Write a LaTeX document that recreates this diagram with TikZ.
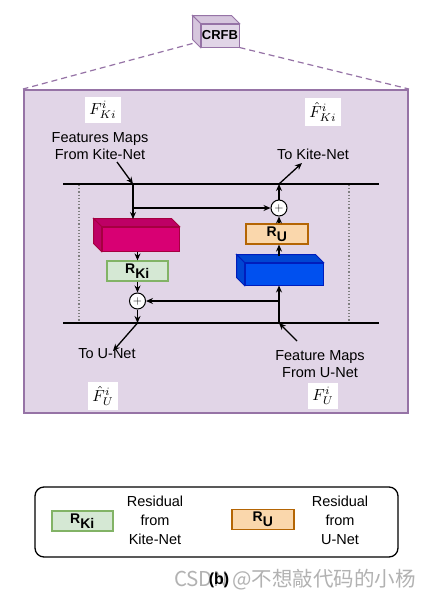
\documentclass[tikz,border=0pt]{standalone}
\usepackage{fontspec}
\setmainfont{Liberation Sans}
\newfontfamily\cjk{Noto Sans CJK SC}
\usetikzlibrary{arrows.meta,calc}
\definecolor{purfill}{HTML}{E1D5E7}
\definecolor{purline}{HTML}{9673A6}
\definecolor{magfill}{HTML}{D80073}
\definecolor{magline}{HTML}{A50040}
\definecolor{bluefill}{HTML}{0050EF}
\definecolor{blueline}{HTML}{001DBC}
\definecolor{grnfill}{HTML}{D5E8D4}
\definecolor{grnline}{HTML}{82B366}
\definecolor{orgfill}{HTML}{FAD7AC}
\definecolor{orgline}{HTML}{B46504}
\newcommand{\biglbl}[1]{\scalebox{1.6}{$#1$}}
\begin{document}
\begin{tikzpicture}[x=1pt,y=-1pt,
  txt/.style={font=\fontsize{14.5}{17.5}\selectfont, align=center, inner sep=0pt},
  mathlbl/.style={fill=white, inner xsep=4pt, inner ysep=4pt},
  arr/.style={draw=black, line width=1.3pt, -{Stealth[length=7pt,width=6pt]}},
  plain/.style={draw=black, line width=1.3pt},
  face/.style={draw, rectangle, inner sep=0pt, line width=1pt},
  resbox/.style={draw, rectangle, inner sep=0pt, line width=1.2pt, minimum height=20pt, font=\fontsize{14}{15}\selectfont\bfseries},
  plus/.style={draw=black, circle, fill=white, minimum size=16pt, inner sep=0pt, line width=1pt, font=\fontsize{12}{12}\selectfont}
]
\useasboundingbox (0,0) rectangle (430,603);
\fill[white] (0,0) rectangle (430,603);

% CRFB cube
\node[face, draw=purline, fill=purfill, minimum width=38pt, minimum height=23pt, font=\fontsize{13}{13}\selectfont\bfseries] (crfb) at (220,35.5) {CRFB};
\draw[draw=purline, fill=purfill!85!purline, line width=1pt] (crfb.north west) -- ++(-8,-8) -- ($(crfb.north east)+(-8,-8)$) -- (crfb.north east) -- cycle;
\draw[draw=purline, fill=purfill!85!purline, line width=1pt] (crfb.north west) -- ++(-8,-8) -- ($(crfb.south west)+(-8,-8)$) -- (crfb.south west) -- cycle;

% big box
\node[draw=purline, fill=purfill, line width=2pt, minimum width=384pt, minimum height=323pt, inner sep=0pt] (big) at (216,251.5) {};
\draw[purline, dashed, dash pattern=on 6pt off 4pt, line width=1.2pt] ($(crfb.south west)+(-8,-4)$) -- (big.north west);
\draw[purline, dashed, dash pattern=on 6pt off 4pt, line width=1.2pt] (crfb.south east) -- (big.north east);

% main lines
\coordinate (tl) at (63,184); \coordinate (tr) at (379,184);
\coordinate (bl) at (63,323); \coordinate (br) at (379,323);
\draw[plain] (tl) -- (tr);
\draw[plain] (bl) -- (br);
\draw[gray, dotted, line width=1.2pt] (79,185) -- (79,322);
\draw[gray, dotted, line width=1.2pt] (349,185) -- (349,322);

% magenta block
\node[face, draw=magline, fill=magfill, minimum width=77pt, minimum height=24pt] (mag) at (140.5,239) {};
\draw[draw=magline, fill=magfill!88!black, line width=1pt] (mag.north west) -- ++(-8,-8) -- ($(mag.north east)+(-8,-8)$) -- (mag.north east) -- cycle;
\draw[draw=magline, fill=magfill!88!black, line width=1pt] (mag.north west) -- ++(-8,-8) -- ($(mag.south west)+(-8,-8)$) -- (mag.south west) -- cycle;

% blue block
\node[face, draw=blueline, fill=bluefill, minimum width=78pt, minimum height=22pt] (blue) at (284,274) {};
\draw[draw=blueline, fill=bluefill!88!black, line width=1pt] (blue.north west) -- ++(-8,-8) -- ($(blue.north east)+(-8,-8)$) -- (blue.north east) -- cycle;
\draw[draw=blueline, fill=bluefill!88!black, line width=1pt] (blue.north west) -- ++(-8,-8) -- ($(blue.south west)+(-8,-8)$) -- (blue.south west) -- cycle;

% residual boxes
\node[resbox, draw=grnline, fill=grnfill, minimum width=61pt] (rki) at (137.5,271) {R$_{\textbf{Ki}}$};
\node[resbox, draw=orgline, fill=orgfill, minimum width=62pt] (ru) at (277,234) {R$_{\textbf{U}}$};

% plus nodes
\node[plus] (pk) at (137.5,301) {$+$};
\node[plus] (pu) at (279,208) {$+$};

% junction coordinates
\coordinate (kin) at (133,184);
\coordinate (kbr) at (133,208);
\coordinate (magtop) at (133,219);
\coordinate (kout) at (279,184);
\coordinate (uin) at (279,323);
\coordinate (ubr) at (279,301);
\coordinate (bluetop) at (279,256);
\coordinate (uout) at (137.5,323);

% text
\node[txt] (fk) at (100,146) {Features Maps\\From Kite-Net};
\node[txt] (tk) at (313,154) {To Kite-Net};
\node[txt] (tu) at (107,354) {To U-Net};
\node[txt] (fu) at (320,364) {Feature Maps\\From U-Net};
\node[mathlbl] (fki) at (103,110) {\biglbl{F^{i}_{Ki}}};
\node[mathlbl] (hfki) at (323,112) {\biglbl{\hat{F}^{i}_{Ki}}};
\node[mathlbl] (hfu) at (103,396) {\biglbl{\hat{F}^{i}_{U}}};
\node[mathlbl] (fuu) at (323,396) {\biglbl{F^{i}_{U}}};

\coordinate (fkend) at (117,162);
\coordinate (tkend) at (302,163);
\coordinate (tuend) at (113,351);
\coordinate (fuend) at (297,341);

% connectors
\draw[arr] (fkend) -- (kin);
\draw[arr] (kin) -- (magtop);
\draw[arr] (kbr) -- (pu);
\draw[arr] (rki.north |- mag.south) -- (rki.north);
\draw[arr] (rki) -- (pk);
\draw[arr] (pk) -- (uout);
\draw[arr] (uout) -- (tuend);
\draw[arr] (fuend) -- (uin);
\draw[arr] (uin) -- (blue.south -| uin);
\draw[arr] (ubr) -- (pk);
\draw[arr] (bluetop) -- (ru.south -| bluetop);
\draw[arr] (ru.north -| pu) -- (pu);
\draw[arr] (pu) -- (kout);
\draw[arr] (kout) -- (tkend);

% legend
\node[draw=black, line width=1.3pt, rounded corners=9pt, minimum width=363pt, minimum height=70pt, inner sep=0pt] (legend) at (216.5,522) {};
\node[resbox, draw=grnline, fill=grnfill, minimum width=61pt] (rkl) at (82.5,521) {R$_{\textbf{Ki}}$};
\node[resbox, draw=orgline, fill=orgfill, minimum width=62pt] (rul) at (263,519.5) {R$_{\textbf{U}}$};
\node[txt, font=\fontsize{14.5}{19}\selectfont] (lk) at (155,520) {Residual\\from\\Kite-Net};
\node[txt, font=\fontsize{14.5}{19}\selectfont] (lu) at (340,520) {Residual\\from\\U-Net};

% caption and watermark
\node[inner sep=0pt, text=gray!60, font=\cjk\fontsize{20.5}{20.5}\selectfont] (wm) at (295,580) {CSDN @不想敲代码的小杨};
\node[inner sep=0pt, font=\fontsize{16}{16}\selectfont\bfseries] (cap) at (219,580) {(b)};
\end{tikzpicture}
\end{document}
